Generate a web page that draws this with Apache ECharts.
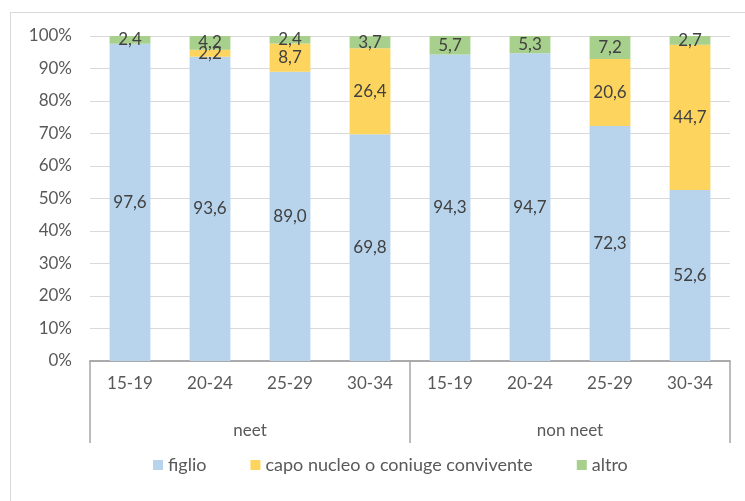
<!DOCTYPE html>
<html>
<head>
<meta charset="utf-8">
<script src="https://cdn.jsdelivr.net/npm/echarts@6/dist/echarts.min.js"></script>
<style>
  html, body { margin: 0; padding: 0; background: #fff; }
  #frame { position: absolute; left: 10px; top: 12px; width: 740px; height: 500px; border: 1px solid #d9d9d9; box-sizing: border-box; }
  #chart { width: 745px; height: 501px; }
</style>
</head>
<body>
<div id="frame"></div>
<div id="chart"></div>
<script>
// Age classes, repeated for each group
const ageClasses = ['15-19', '20-24', '25-29', '30-34', '15-19', '20-24', '25-29', '30-34'];
const groups = ['neet', 'non neet'];

// Share (%) by position in the household
const figlio = [97.6, 93.6, 89.0, 69.8, 94.3, 94.7, 72.3, 52.6];
const capoNucleo = [0, 2.2, 8.7, 26.4, 0, 0, 20.6, 44.7];
const altro = [2.4, 4.2, 2.4, 3.7, 5.7, 5.3, 7.2, 2.7];

const yTicks = [0, 10, 20, 30, 40, 50, 60, 70, 80, 90, 100];

const FONT = 'Lato';
const TEXT = '#595959';

function fmt(v) {
  return v.toFixed(1).replace('.', ',');
}

function barSeries(name, data, color) {
  return {
    name: name,
    type: 'bar',
    stack: 'tot',
    barWidth: '51%',
    data: data,
    itemStyle: { color: color },
    label: {
      show: true,
      position: 'inside',
      color: '#404040',
      fontFamily: FONT,
      fontSize: 17,
      formatter: p => (p.value > 0 ? fmt(p.value) : '')
    },
    labelLayout: { hideOverlap: false }
  };
}

const chart = echarts.init(document.getElementById('chart'));
chart.setOption({
  animation: false,
  textStyle: { fontFamily: FONT },
  grid: { left: 90, right: 15, top: 36, bottom: 140 },
  legend: {
    bottom: 22,
    left: 148,
    itemWidth: 10,
    itemHeight: 10,
    itemGap: 44,
    icon: 'rect',
    textStyle: { color: TEXT, fontSize: 18, fontFamily: FONT },
    data: ['figlio', 'capo nucleo o coniuge convivente', 'altro']
  },
  xAxis: [
    {
      type: 'category',
      data: ageClasses,
      position: 'bottom',
      axisLine: { show: true, lineStyle: { color: '#a6a6a6', width: 1.5 } },
      axisTick: { show: false },
      axisLabel: { color: TEXT, fontSize: 17, fontFamily: FONT, margin: 14, interval: 0 }
    },
    {
      type: 'category',
      data: groups,
      position: 'bottom',
      axisLine: { show: true, lineStyle: { color: '#a6a6a6', width: 1.5 } },
      axisTick: { show: true, length: 82, interval: 0, lineStyle: { color: '#a6a6a6', width: 1.5 } },
      axisLabel: { color: TEXT, fontSize: 17, fontFamily: FONT, margin: 61 }
    }
  ],
  yAxis: {
    type: 'value',
    min: yTicks[0],
    max: yTicks[yTicks.length - 1],
    interval: 10,
    axisLine: { show: false },
    axisTick: { show: false },
    splitLine: { lineStyle: { color: '#d9d9d9', width: 1 } },
    axisLabel: { color: TEXT, fontSize: 17, fontFamily: FONT, margin: 18, formatter: '{value}%' }
  },
  series: [
    barSeries('figlio', figlio, '#b8d3ec'),
    barSeries('capo nucleo o coniuge convivente', capoNucleo, '#fdd55e'),
    barSeries('altro', altro, '#a6d08b')
  ]
});
</script>
</body>
</html>
